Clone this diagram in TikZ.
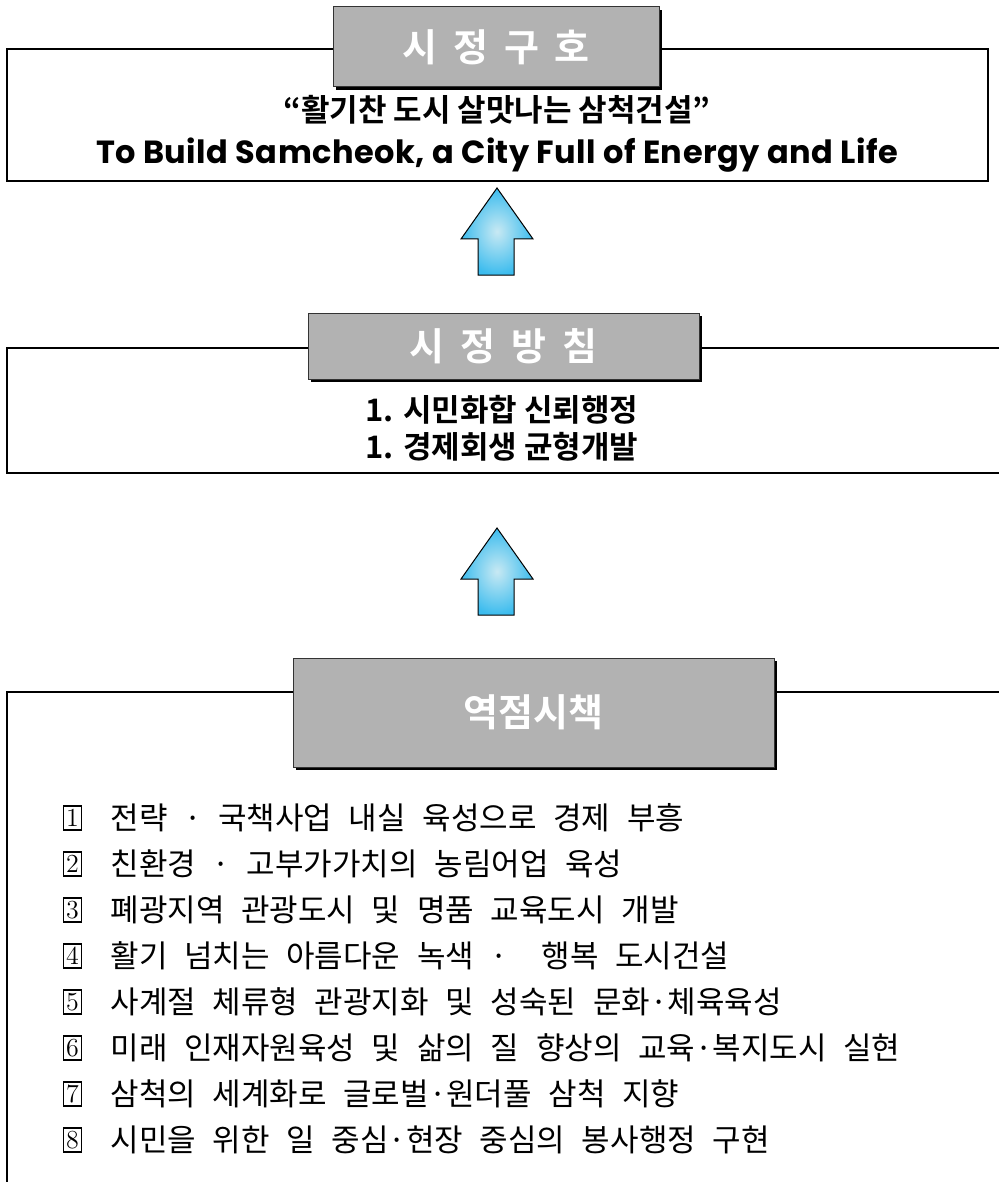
\documentclass[tikz,border=0pt]{standalone}
\usepackage{fontspec}
\newfontfamily\krfont{Noto Sans CJK KR}
\newfontfamily\kritem[WordSpace=2.4]{Noto Sans CJK KR}
\newfontfamily\krhead{Noto Sans CJK KR Bold}
\newfontfamily\enhead[LetterSpace=1.5]{Poppins}
\usetikzlibrary{positioning,shadows}
\definecolor{boxgray}{RGB}{178,178,178}
\definecolor{arrowin}{RGB}{200,233,243}
\definecolor{arrowout}{RGB}{60,188,238}

\tikzset{
  frameline/.style={line width=0.6pt},
  headbox/.style={fill=boxgray, draw=black!80, line width=0.5pt, text=white, inner sep=0pt,
    font=\krhead\fontsize{19}{21}\selectfont,
    drop shadow={shadow xshift=1.5pt, shadow yshift=-1.5pt, fill=black, opacity=1}},
  upshade/.style={draw=black, line width=0.5pt, inner color=arrowin, outer color=arrowout},
  headline/.style={font=\krhead\fontsize{15.5}{18}\selectfont, inner sep=0pt},
  numbox/.style={draw, line width=0.6pt, inner sep=0pt, minimum width=9pt, minimum height=12pt,
    font=\fontsize{13}{13}\selectfont},
  itemtext/.style={font=\kritem\fontsize{15.5}{18}\selectfont, inner sep=0pt, anchor=west}
}
\def\gap{\hspace{8pt}}

\begin{document}
\begin{tikzpicture}[x=0.5pt, y=-0.5pt]
  \useasboundingbox[fill=white] (0,0) rectangle (998,1182);
  % frames
  \draw[frameline] (7,49) rectangle (988,181);
  \draw[frameline] (1010,348) -- (7,348) -- (7,473) -- (1010,473);
  \draw[frameline] (1010,692) -- (7,692) -- (7,1200);

  % block arrows
  \shade[upshade] (497,188) --++(36,51) --++(-19,0) --++(0,36) --++(-36,0)
    --++(0,-36) --++(-17,0) -- cycle;
  \shade[upshade] (497,528) --++(36,51) --++(-19,0) --++(0,36) --++(-36,0)
    --++(0,-36) --++(-17,0) -- cycle;

  % headings
  \node[headbox, minimum width=163pt, minimum height=40pt] (gu) at (496,47)
    {시\gap 정\gap 구\gap 호};
  \node[headbox, minimum width=195.5pt, minimum height=33pt] (bang) at (503.5,346)
    {시\gap 정\gap 방\gap 침};
  \node[headbox, minimum width=240.5pt, minimum height=54.5pt] (yeok) at (533.5,712.5)
    {역점시책};

  % slogan
  \node[headline] (motto) at (497,110) {“활기찬 도시 살맛나는 삼척건설”};
  \node[font=\enhead\bfseries\fontsize{16}{19}\selectfont, inner sep=0pt] (mottoen) at (497,155)
    {To Build Samcheok, a City Full of Energy and Life};

  % policy
  \node[headline, anchor=west] (pol1) at (365,410) {1. 시민화합 신뢰행정};
  \node[headline, anchor=west] (pol2) at (365,447) {1. 경제회생 균형개발};

  % items
  \node[numbox] (n1) at (72.5,818) {1};
  \node[itemtext, right=14pt of n1] (it1) {전략 · 국책사업 내실 육성으로 경제 부흥};
  \node[numbox] (n2) at (72.5,864) {2};
  \node[itemtext, right=14pt of n2] (it2) {친환경 · 고부가가치의 농림어업 육성};
  \node[numbox] (n3) at (72.5,910) {3};
  \node[itemtext, right=14pt of n3] (it3) {폐광지역 관광도시 및 명품 교육도시 개발};
  \node[numbox] (n4) at (72.5,956) {4};
  \node[itemtext, right=14pt of n4] (it4) {활기 넘치는 아름다운 녹색 · \ 행복 도시건설};
  \node[numbox] (n5) at (72.5,1002) {5};
  \node[itemtext, right=14pt of n5] (it5) {사계절 체류형 관광지화 및 성숙된 문화·체육육성};
  \node[numbox] (n6) at (72.5,1048) {6};
  \node[itemtext, right=14pt of n6] (it6) {미래 인재자원육성 및 삶의 질 향상의 교육·복지도시 실현};
  \node[numbox] (n7) at (72.5,1094) {7};
  \node[itemtext, right=14pt of n7] (it7) {삼척의 세계화로 글로벌·원더풀 삼척 지향};
  \node[numbox] (n8) at (72.5,1140) {8};
  \node[itemtext, right=14pt of n8] (it8) {시민을 위한 일 중심·현장 중심의 봉사행정 구현};
\end{tikzpicture}
\end{document}
